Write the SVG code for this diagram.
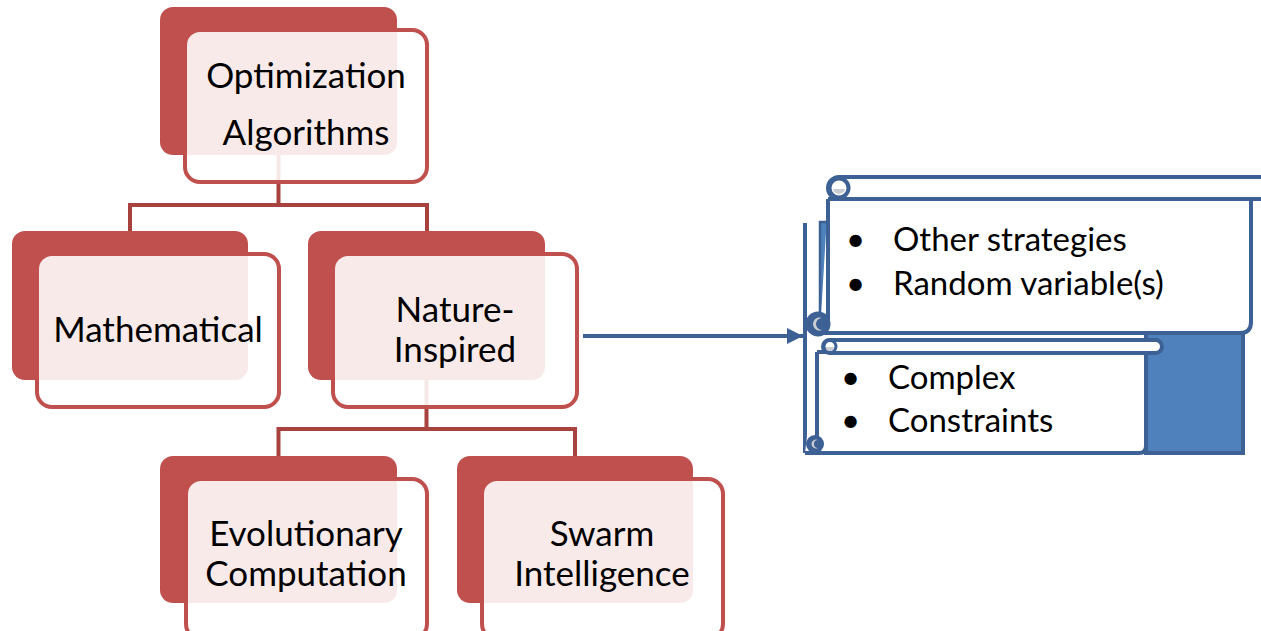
<svg xmlns="http://www.w3.org/2000/svg" width="1261" height="631" viewBox="0 0 1261 631">
<defs>
<style>
.dark{fill:#C0504D;}
.box{fill:#FFFFFF;fill-opacity:0.88;stroke:#C0504D;stroke-width:4;}
.conn{fill:none;stroke:#A8423F;stroke-width:4;}
.t{font-family:Lato,"Open Sans","Liberation Sans",sans-serif;font-size:35px;fill:#000;text-anchor:middle;}
.s{font-family:Lato,"Open Sans","Liberation Sans",sans-serif;font-size:33px;fill:#000;}
.bs{fill:#FFFFFF;stroke:#3D6194;stroke-width:4;stroke-linejoin:round;}
.bf{fill:#4F81BD;stroke:#3D6194;stroke-width:4;}
.bl{fill:none;stroke:#3D6194;stroke-width:4;}
.curl{fill:#3D6194;}
.cg{fill:#C9CCD2;}
</style>
<marker id="arr" viewBox="0 0 10 10" refX="10" refY="5" markerWidth="4" markerHeight="4" orient="auto" markerUnits="strokeWidth">
<path d="M0,0 L10,5 L0,10 Z" fill="#3D6194"/>
</marker>
</defs>

<g id="connectors">
<path class="conn" d="M278.5,155 V205 M130,231 V205 H427 V231"/>
<path class="conn" d="M426.5,380 V429 M278.5,456 V429 H575 V456"/>
<line x1="583" y1="336" x2="803" y2="336" stroke="#3D6194" stroke-width="4" marker-end="url(#arr)"/>
</g>

<g id="node-optimization">
<rect class="dark" x="160" y="7" width="237" height="148" rx="13"/>
<rect class="box" x="185" y="30" width="242" height="152" rx="15"/>
<text class="t" x="306" y="88">Optimization</text>
<text class="t" x="306" y="145">Algorithms</text>
</g>

<g id="node-mathematical">
<rect class="dark" x="12" y="231" width="236" height="149" rx="13"/>
<rect class="box" x="37" y="254" width="242" height="153" rx="15"/>
<text class="t" x="158" y="342">Mathematical</text>
</g>

<g id="node-nature">
<rect class="dark" x="308" y="231" width="237" height="149" rx="13"/>
<rect class="box" x="333" y="254" width="244" height="153" rx="15"/>
<text class="t" x="455" y="322">Nature-</text>
<text class="t" x="455" y="362">Inspired</text>
</g>

<g id="node-evolutionary">
<rect class="dark" x="160" y="456" width="237" height="147" rx="13"/>
<rect class="box" x="186" y="479" width="241" height="160" rx="15"/>
<text class="t" x="306" y="546">Evolutionary</text>
<text class="t" x="306" y="586">Computation</text>
</g>

<g id="node-swarm">
<rect class="dark" x="457" y="456" width="236" height="147" rx="13"/>
<rect class="box" x="482" y="479" width="241" height="160" rx="15"/>
<text class="t" x="602" y="546">Swarm</text>
<text class="t" x="602" y="586">Intelligence</text>
</g>

<g id="scroll-constraints">
<line class="bl" x1="805" y1="223" x2="805" y2="453" stroke-width="3.5"/>
<rect class="bf" x="1146" y="333" width="97" height="120"/>
<path class="bs" d="M817,352 H1146 V446 Q1146,453 1139,453 H805"/>
<rect class="bs" x="823" y="340" width="339" height="13" rx="6.5"/>
<circle cx="830" cy="346.5" r="6" fill="#FFFFFF" stroke="#3D6194" stroke-width="3"/>
<path class="cg" d="M826,347 a4,4 0 0 0 8,0 z"/>
<line class="bl" x1="817" y1="352" x2="817" y2="443"/>
<circle class="curl" cx="815" cy="444" r="9"/>
<path class="cg" d="M818,440 a4.5,4.5 0 1 0 0,8 a3,3 0 1 1 0,-8 z"/>
<text class="s" x="841" y="389">•</text>
<text class="s" x="888" y="389">Complex</text>
<text class="s" x="841" y="432">•</text>
<text class="s" x="888" y="432">Constraints</text>
</g>

<g id="scroll-strategies">
<rect x="820" y="222" width="8" height="102" fill="#4F81BD" stroke="#3D6194" stroke-width="2.5"/>
<path class="bs" d="M828,199 H1251 V322 Q1251,333 1240,333 H820 M828,199 V322"/>
<rect class="bs" x="828" y="177" width="460" height="22" rx="11"/>
<circle cx="839" cy="188" r="9.5" fill="#FFFFFF" stroke="#3D6194" stroke-width="4"/>
<path class="cg" d="M833,189 a6,5 0 0 0 12,0 z"/>
<circle class="curl" cx="818" cy="324" r="12.5"/>
<path class="cg" d="M822,318 a6.5,6.5 0 1 0 0,12 a4,4 0 1 1 0,-12 z"/>
<text class="s" x="846" y="251">•</text>
<text class="s" x="893" y="251">Other strategies</text>
<text class="s" x="846" y="295">•</text>
<text class="s" x="893" y="295">Random variable(s)</text>
</g>
</svg>
